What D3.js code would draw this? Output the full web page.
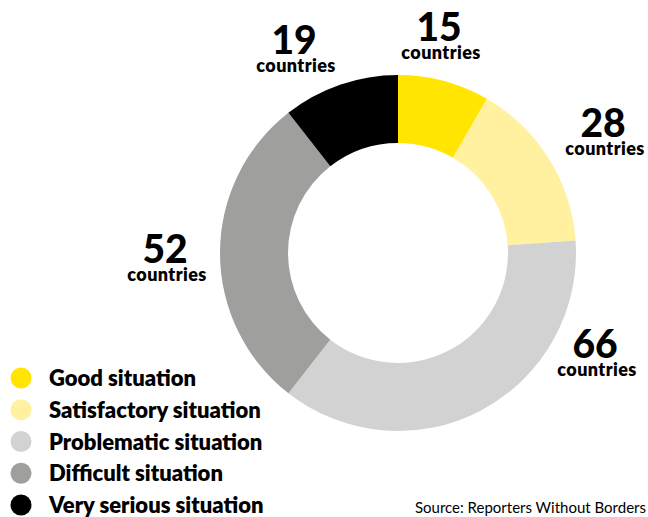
<!DOCTYPE html>
<html>
<head>
<meta charset="utf-8">
<script src="https://cdn.jsdelivr.net/npm/d3@7"></script>
<style>
  html, body { margin: 0; padding: 0; background: #fff; }
  svg { display: block; }
</style>
</head>
<body>
<svg id="chart" width="648" height="517"></svg>
<script>
// ---- data ----
const categories = ["Good situation", "Satisfactory situation", "Problematic situation", "Difficult situation", "Very serious situation"];
const values = [15, 28, 66, 52, 19];
const colors = ["#FFE500", "#FFF1A0", "#D2D2D2", "#9F9F9D", "#000000"];
const unitLabel = "countries";
const sourceText = "Source: Reporters Without Borders";

// ---- layout (annotation positions, not data) ----
const cx = 398, cy = 253, outerR = 178, innerR = 110;
const labelPos = [
  [439, 41],  // Good
  [603, 137], // Satisfactory
  [595, 358], // Problematic
  [165, 263], // Difficult
  [294, 54]   // Very serious
];

const svg = d3.select("#chart");
const data = categories.map((c, i) => ({ cat: c, value: values[i], color: colors[i], pos: labelPos[i] }));

const pie = d3.pie().sort(null).value(d => d.value).startAngle(0).endAngle(2 * Math.PI);
const arc = d3.arc().innerRadius(innerR).outerRadius(outerR);

const g = svg.append("g").attr("transform", `translate(${cx},${cy})`);
g.selectAll("path").data(pie(data)).join("path")
  .attr("d", arc)
  .attr("fill", d => d.data.color);

const font = "Lato, 'Open Sans', sans-serif";

const lbl = svg.append("g");
data.forEach(d => {
  lbl.append("text")
    .attr("x", d.pos[0]).attr("y", d.pos[1])
    .attr("text-anchor", "middle")
    .style("font-family", font).style("font-weight", 900).style("font-size", "39px")
    .attr("fill", "#000")
    .text(d.value);
  lbl.append("text")
    .attr("x", d.pos[0] + 2).attr("y", d.pos[1] + 18)
    .attr("text-anchor", "middle")
    .style("font-family", font).style("font-weight", 800).style("font-size", "18px")
    .style("letter-spacing", "0.4px")
    .attr("fill", "#000")
    .text(unitLabel);
});

// legend
const legendY = d3.scalePoint().domain(categories).range([378, 505]);
const leg = svg.append("g");
data.forEach(d => {
  leg.append("circle")
    .attr("cx", 21).attr("cy", legendY(d.cat)).attr("r", 10.5)
    .attr("fill", d.color);
  leg.append("text")
    .attr("x", 49).attr("y", legendY(d.cat) + 8)
    .style("font-family", font).style("font-weight", 800).style("font-size", "22px")
    .attr("fill", "#000")
    .text(d.cat);
});

svg.append("text")
  .attr("x", 646).attr("y", 513)
  .attr("text-anchor", "end")
  .style("font-family", font).style("font-size", "15px")
  .attr("fill", "#000")
  .text(sourceText);
</script>
</body>
</html>
